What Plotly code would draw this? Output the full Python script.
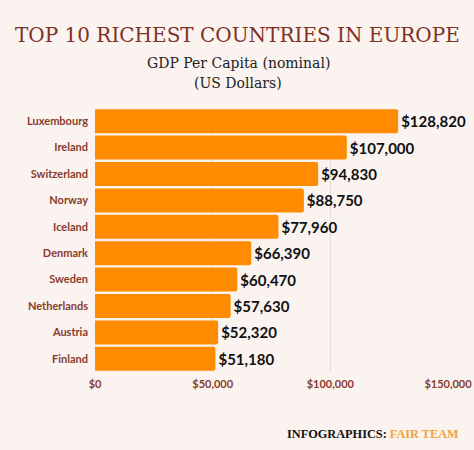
import plotly.graph_objects as go

countries = ["Luxembourg", "Ireland", "Switzerland", "Norway", "Iceland",
             "Denmark", "Sweden", "Netherlands", "Austria", "Finland"]
gdp = [128820, 107000, 94830, 88750, 77960, 66390, 60470, 57630, 52320, 51180]
tick_vals = [0, 50000, 100000, 150000]
tick_text = ["$0", "$50,000", "$100,000", "$150,000"]

BG = "#FAF3F0"
BROWN = "#8A3B2C"
ORANGE = "#FF8C00"

W, H = 474, 450
l, r, t, b = 95, 26, 108, 78
pw, ph = W - l - r, H - t - b


def px(x):
    return (x - l) / pw


def py(y):
    return (H - b - y) / ph


fig = go.Figure(go.Bar(
    x=gdp, y=countries, orientation="h",
    marker=dict(color=ORANGE, cornerradius=2, line=dict(width=0)),
    text=[f"${v:,}" for v in gdp], textposition="outside",
    textfont=dict(family="Lato", size=15, color="#111111", weight="bold"),
    cliponaxis=False,
))

fig.update_layout(
    width=W, height=H,
    paper_bgcolor=BG, plot_bgcolor=BG,
    margin=dict(l=l, r=r, t=t, b=b, autoexpand=False),
    bargap=0.09,
    showlegend=False,
    xaxis=dict(range=[0, 150000], tickvals=tick_vals, ticktext=tick_text,
               showgrid=True, gridcolor="#E6DEDA", gridwidth=1, zeroline=False,
               automargin=False,
               tickfont=dict(family="Lato", size=11, color=BROWN, weight="bold"),
               ticks="", ticklabelstandoff=4),
    yaxis=dict(categoryorder="array", categoryarray=countries[::-1],
               showgrid=False, zeroline=False, ticks="", ticklabelstandoff=6,
               automargin=False,
               tickfont=dict(family="Lato", size=11, color=BROWN, weight="bold")),
    annotations=[
        dict(text="TOP 10 RICHEST COUNTRIES IN EUROPE", x=px(W / 2 + 0.5), y=py(35),
             xref="paper", yref="paper", yanchor="middle",
             showarrow=False, font=dict(family="DejaVu Serif", size=20, color="#7E3225")),
        dict(text="GDP Per Capita (nominal)", x=px(W / 2 + 1), y=py(63),
             xref="paper", yref="paper", yanchor="middle",
             showarrow=False, font=dict(family="DejaVu Serif", size=14, color="#222222")),
        dict(text="(US Dollars)", x=px(W / 2 + 1), y=py(83),
             xref="paper", yref="paper", yanchor="middle",
             showarrow=False, font=dict(family="DejaVu Serif", size=14, color="#222222")),
        dict(text="<b>INFOGRAPHICS: </b><b><span style='color:#F0A43A'>FAIR TEAM</span></b>",
             x=px(461), y=py(434), xref="paper", yref="paper", xanchor="right", yanchor="middle",
             showarrow=False, font=dict(family="Liberation Serif", size=12.3, color="#111111")),
    ],
)

fig.write_html("out.html", config={"displayModeBar": False},
               post_script="document.body.style.margin='0';")
